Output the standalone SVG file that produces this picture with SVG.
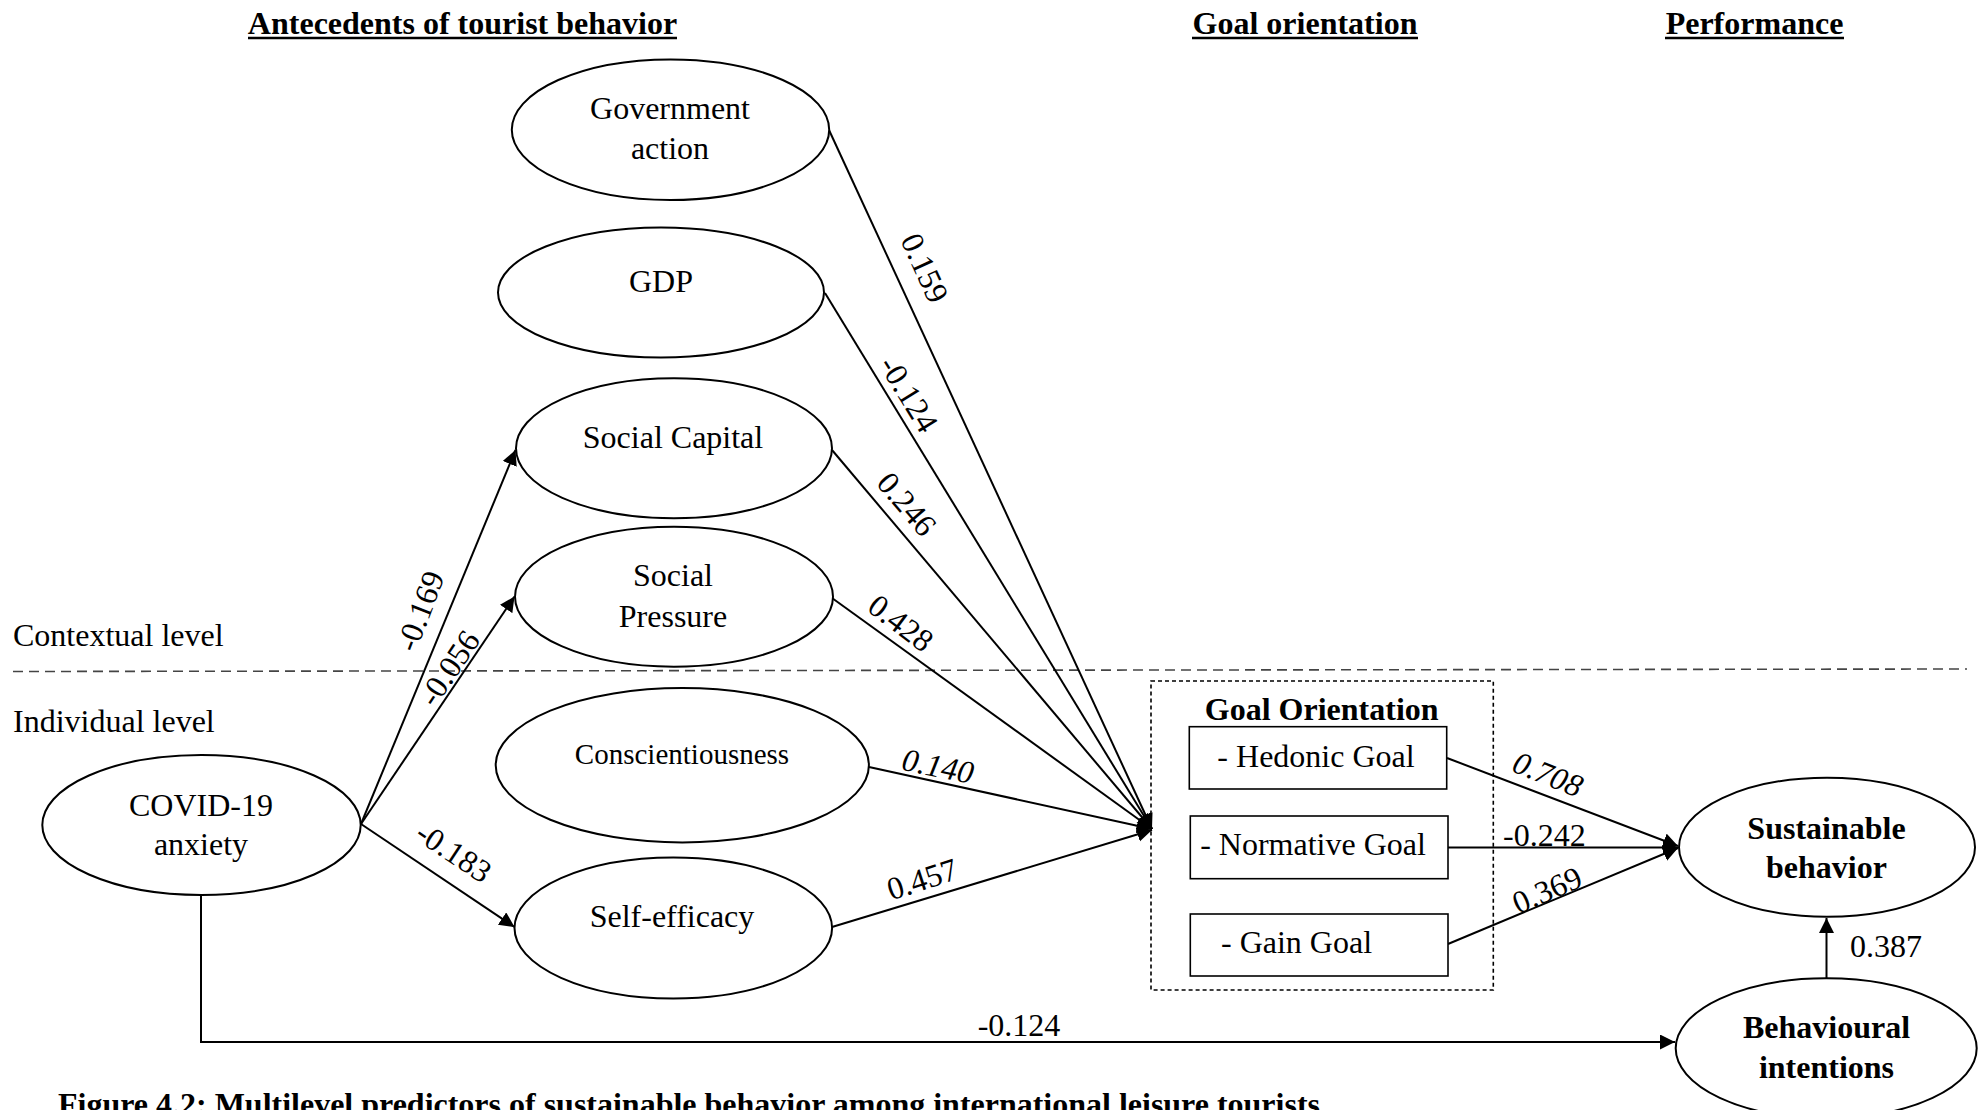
<svg xmlns="http://www.w3.org/2000/svg" width="1980" height="1110" viewBox="0 0 1980 1110">
  <style>
    text { font-family: "Liberation Serif", "Times New Roman", serif; font-size: 32px; fill: #000; }
    .c { text-anchor: middle; }
    .b { font-weight: bold; }
    .i { font-style: italic; }
    .node ellipse { fill: #fff; stroke: #000; stroke-width: 2; }
    .node rect { fill: #fff; stroke: #000; stroke-width: 1.6; }
    .edge { fill: none; stroke: #000; stroke-width: 2; }
    .head { marker-end: url(#arrow); }
    .rule { stroke: #000; stroke-width: 2.6; }
  </style>
  <defs>
    <marker id="arrow" markerUnits="userSpaceOnUse" markerWidth="16" markerHeight="16" refX="15" refY="7.5" orient="auto">
      <path d="M0,0 L15,7.5 L0,15 z" fill="#000"/>
    </marker>
  </defs>

  <rect width="1980" height="1110" fill="#fff"/>

  <!-- column headings -->
  <g id="headings">
    <text class="b c" x="462.5" y="34">Antecedents of tourist behavior</text>
    <line class="rule" x1="248" y1="38" x2="677" y2="38"/>
    <text class="b c" x="1305" y="34">Goal orientation</text>
    <line class="rule" x1="1192" y1="38" x2="1418" y2="38"/>
    <text class="b c" x="1754.5" y="34">Performance</text>
    <line class="rule" x1="1665" y1="38" x2="1844" y2="38"/>
  </g>

  <!-- level divider -->
  <g id="levels">
    <line x1="13" y1="671.5" x2="1967" y2="669" stroke="#444" stroke-width="1.6" stroke-dasharray="10 6"/>
    <text x="13" y="645.5">Contextual level</text>
    <text x="13" y="731.5">Individual level</text>
  </g>

  <!-- connectors -->
  <g id="connectors">
    <line class="edge head" x1="829" y1="130" x2="1152" y2="829"/>
    <line class="edge head" x1="825" y1="293" x2="1152" y2="829"/>
    <line class="edge head" x1="832" y1="450" x2="1152" y2="829"/>
    <line class="edge head" x1="832" y1="598" x2="1152" y2="829"/>
    <line class="edge head" x1="869" y1="767" x2="1152" y2="829" stroke-width="2.4"/>
    <line class="edge head" x1="832" y1="927" x2="1152" y2="830" stroke-width="2.4"/>

    <line class="edge head" x1="361" y1="824" x2="515.5" y2="450"/>
    <line class="edge head" x1="361" y1="824" x2="514.5" y2="596.5"/>
    <line class="edge head" x1="361" y1="824" x2="514.5" y2="927" stroke-width="2.4"/>

    <polyline class="edge head" points="201,895 201,1042 1675,1042" stroke-width="2.4"/>

    <line class="edge head" x1="1447" y1="758" x2="1678" y2="846" stroke-width="2.4"/>
    <line class="edge head" x1="1448" y1="847.5" x2="1678" y2="847.5" stroke-width="2.6"/>
    <line class="edge head" x1="1448" y1="944" x2="1678" y2="848" stroke-width="2.4"/>

    <line class="edge head" x1="1826.5" y1="978" x2="1826.5" y2="918" stroke-width="2.4"/>

    <!-- path coefficients -->
    <text class="c" transform="translate(925 268) rotate(65.5)" y="11">0.159</text>
    <text class="c" transform="translate(909 394) rotate(58.5)" y="11">-0.124</text>
    <text class="c" transform="translate(907 504) rotate(49.5)" y="11">0.246</text>
    <text class="c" transform="translate(901 623) rotate(37)" y="11">0.428</text>
    <text class="c i" transform="translate(938 766) rotate(11.5)" y="11">0.140</text>
    <text class="c" transform="translate(922 879) rotate(-18)" y="11">0.457</text>
    <text class="c" transform="translate(420 611) rotate(-69)" y="11">-0.169</text>
    <text class="c" transform="translate(449 668) rotate(-56)" y="11">-0.056</text>
    <text class="c" transform="translate(454 852) rotate(33.5)" y="11">-0.183</text>
    <text class="c i" transform="translate(1548 774) rotate(22)" y="11">0.708</text>
    <text class="c" transform="translate(1547 890) rotate(-23.5)" y="11">0.369</text>
    <text x="1503" y="846">-0.242</text>
    <text class="c" x="1019" y="1036">-0.124</text>
    <text x="1850" y="957">0.387</text>
  </g>

  <!-- antecedent constructs -->
  <g id="government-action" class="node">
    <ellipse cx="670.5" cy="129.7" rx="158.7" ry="70.3"/>
    <text class="c" x="670" y="119">Government</text>
    <text class="c" x="670" y="159">action</text>
  </g>
  <g id="gdp" class="node">
    <ellipse cx="661" cy="292.5" rx="163" ry="65"/>
    <text class="c" x="661" y="292">GDP</text>
  </g>
  <g id="social-capital" class="node">
    <ellipse cx="674" cy="448.3" rx="158" ry="70"/>
    <text class="c" x="673" y="447.5">Social Capital</text>
  </g>
  <g id="social-pressure" class="node">
    <ellipse cx="674" cy="596.7" rx="159" ry="70"/>
    <text class="c" x="673" y="586">Social</text>
    <text class="c" x="673" y="626.5">Pressure</text>
  </g>
  <g id="conscientiousness" class="node">
    <ellipse cx="682.3" cy="765.2" rx="186.6" ry="77.2"/>
    <text class="c" x="682" y="764" style="font-size:29px">Conscientiousness</text>
  </g>
  <g id="self-efficacy" class="node">
    <ellipse cx="673.3" cy="928" rx="158.8" ry="70.5"/>
    <text class="c" x="672" y="926.5">Self-efficacy</text>
  </g>
  <g id="covid-anxiety" class="node">
    <ellipse cx="201.5" cy="825" rx="159.2" ry="70"/>
    <text class="c" x="201" y="816">COVID-19</text>
    <text class="c" x="201" y="855">anxiety</text>
  </g>

  <!-- goal orientation cluster -->
  <g id="goal-orientation" class="node">
    <rect x="1151" y="681" width="342.3" height="309" fill="none" stroke="#333" stroke-width="1.5" stroke-dasharray="4 3" style="fill:none"/>
    <text class="b c" x="1321.7" y="720">Goal Orientation</text>
  </g>
  <g id="hedonic-goal" class="node">
    <rect x="1189.3" y="726.7" width="257.4" height="62.3"/>
    <text class="c" x="1316" y="766.7">- Hedonic Goal</text>
  </g>
  <g id="normative-goal" class="node">
    <rect x="1190.3" y="816" width="257.7" height="62.7"/>
    <text class="c" x="1313" y="855">- Normative Goal</text>
  </g>
  <g id="gain-goal" class="node">
    <rect x="1190.3" y="914" width="257.7" height="62"/>
    <text x="1221" y="953.3">- Gain Goal</text>
  </g>

  <!-- outcomes -->
  <g id="sustainable-behavior" class="node">
    <ellipse cx="1827" cy="847.2" rx="148" ry="69.5"/>
    <text class="b c" x="1826.5" y="839">Sustainable</text>
    <text class="b c" x="1826.5" y="878.3">behavior</text>
  </g>
  <g id="behavioural-intentions" class="node">
    <ellipse cx="1826.2" cy="1048.3" rx="150.5" ry="70"/>
    <text class="b c" x="1826.5" y="1038.3">Behavioural</text>
    <text class="b c" x="1826.5" y="1078.3">intentions</text>
  </g>

  <!-- caption -->
  <text class="b" x="58" y="1115" textLength="1262">Figure 4.2: Multilevel predictors of sustainable behavior among international leisure tourists</text>
</svg>
